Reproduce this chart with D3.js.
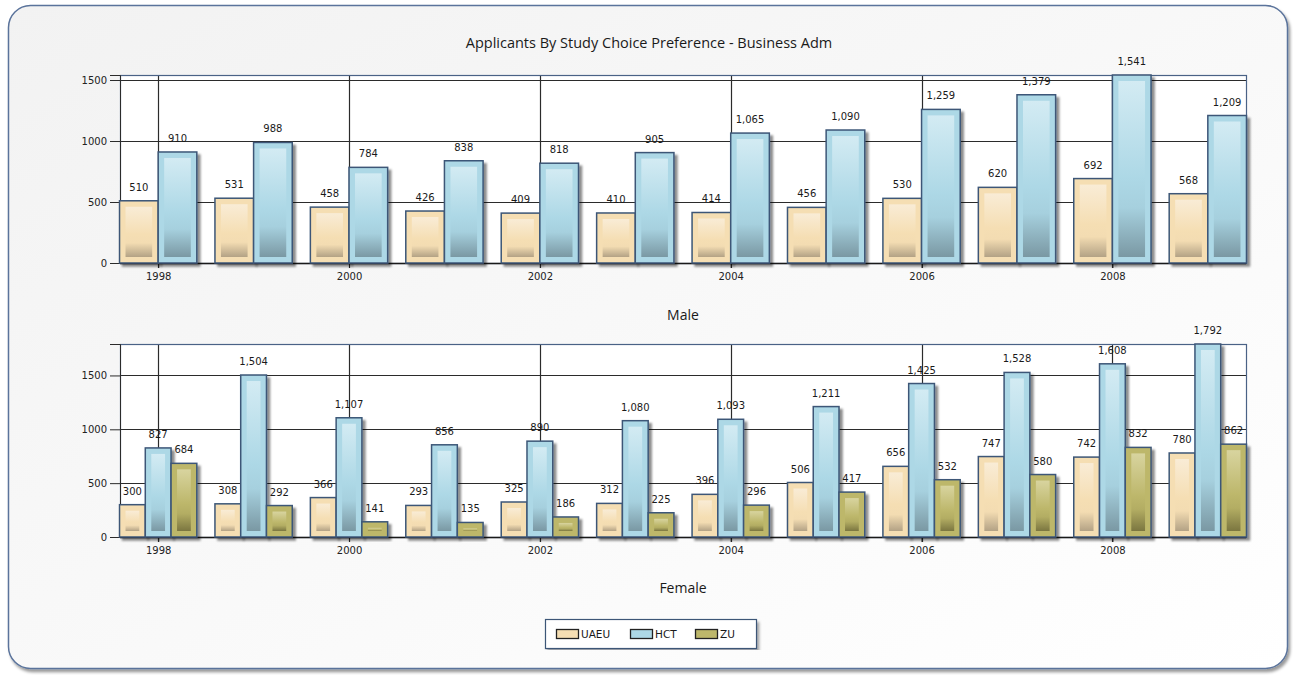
<!DOCTYPE html>
<html>
<head>
<meta charset="utf-8">
<script src="https://cdn.jsdelivr.net/npm/d3@7"></script>
<style>
  html, body { margin: 0; padding: 0; background: #ffffff; }
  svg { display: block; }
</style>
</head>
<body>
<svg id="chart" width="1293" height="675"></svg>
<script>
// ---------------- DATA ----------------
const years = ["1998","1999","2000","2001","2002","2003","2004","2005","2006","2007","2008","2009"];
const xTickYears = ["1998","2000","2002","2004","2006","2008"];
const yTicks = [0, 500, 1000, 1500];
const seriesNames = ["UAEU", "HCT", "ZU"];

const maleUAEU = [510, 531, 458, 426, 409, 410, 414, 456, 530, 620, 692, 568];
const maleHCT  = [910, 988, 784, 838, 818, 905, 1065, 1090, 1259, 1379, 1541, 1209];

const femaleUAEU = [300, 308, 366, 293, 325, 312, 396, 506, 656, 747, 742, 780];
const femaleHCT  = [827, 1504, 1107, 856, 890, 1080, 1093, 1211, 1425, 1528, 1608, 1792];
const femaleZU   = [684, 292, 141, 135, 186, 225, 296, 417, 532, 580, 832, 862];

const chartTitle = "Applicants By Study Choice Preference - Business Adm";

// ---------------- STYLE ----------------
const baseColors = {UAEU: "#f5deb3", HCT: "#add8e6", ZU: "#bdb76b"};
const gradStops = {
  UAEU: ["#f9ecd6", "#f5deb3", "#f3dcb2", "#b3a285"],
  HCT:  ["#d3ebf3", "#add8e6", "#a6d0de", "#7a98a3"],
  ZU:   ["#d8d49f", "#bdb76b", "#b3ad63", "#7b7640"]
};
const outline = "#3c5677";
const fontTick = "'DejaVu Sans', Verdana, sans-serif";
const fontTitle = "'Open Sans', 'Liberation Sans', Arial, sans-serif";

const svg = d3.select("#chart");
const defs = svg.append("defs");

const bg = defs.append("linearGradient").attr("id", "bgGrad")
  .attr("x1", "0").attr("y1", "0").attr("x2", "1").attr("y2", "1");
bg.append("stop").attr("offset", "0").attr("stop-color", "#f2f2f2");
bg.append("stop").attr("offset", "1").attr("stop-color", "#ffffff");

const fShadow = defs.append("filter").attr("id", "frameShadow")
  .attr("x", "-5%").attr("y", "-5%").attr("width", "110%").attr("height", "110%");
fShadow.append("feDropShadow").attr("dx", 2).attr("dy", 3).attr("stdDeviation", 1.5)
  .attr("flood-color", "#000").attr("flood-opacity", 0.4);

const bShadow = defs.append("filter").attr("id", "barShadow")
  .attr("x", "-30%").attr("y", "-30%").attr("width", "160%").attr("height", "160%");
bShadow.append("feDropShadow").attr("dx", 3).attr("dy", 3).attr("stdDeviation", 1.2)
  .attr("flood-color", "#000").attr("flood-opacity", 0.45);

seriesNames.forEach(name => {
  const g = defs.append("linearGradient").attr("id", "grad" + name)
    .attr("x1", "0").attr("y1", "0").attr("x2", "0").attr("y2", "1");
  const s = gradStops[name];
  [[0, s[0]], [0.55, s[1]], [0.72, s[2]], [1, s[3]]].forEach(([o, c]) => {
    g.append("stop").attr("offset", o).attr("stop-color", c);
  });
});

// frame
svg.append("rect")
  .attr("x", 8.5).attr("y", 5.5).attr("width", 1279).attr("height", 663)
  .attr("rx", 22).attr("ry", 22)
  .attr("fill", "url(#bgGrad)").attr("stroke", "#5a739b").attr("stroke-width", 1.5)
  .attr("filter", "url(#frameShadow)");

// title
svg.append("text")
  .attr("x", 649).attr("y", 48)
  .attr("text-anchor", "middle")
  .attr("font-family", fontTitle).attr("font-size", "14.5px").attr("fill", "#1a1a1a")
  .text(chartTitle);

// ---------------- PANELS ----------------
const plotLeft = 120, plotRight = 1246;

const panels = [
  {label: "Male",   names: ["UAEU", "HCT"],       data: [maleUAEU, maleHCT],               top: 75,  bottom: 263, labelY: 320},
  {label: "Female", names: ["UAEU", "HCT", "ZU"], data: [femaleUAEU, femaleHCT, femaleZU], top: 344, bottom: 537, labelY: 593}
];

const x = d3.scalePoint().domain(years).range([plotLeft, plotRight]).padding(0.4);
const groupWidth = x.step() * 0.81;
const fmt = d3.format(",");

panels.forEach(p => {
  const maxV = d3.max(p.data.flat());
  const y = d3.scaleLinear().domain([0, maxV]).range([p.bottom, p.top]);
  const g = svg.append("g");

  g.append("rect").attr("x", plotLeft).attr("y", p.top)
    .attr("width", plotRight - plotLeft).attr("height", p.bottom - p.top)
    .attr("fill", "#ffffff");

  g.selectAll(".hg").data(yTicks.filter(t => t > 0)).enter().append("line")
    .attr("x1", plotLeft).attr("x2", plotRight)
    .attr("y1", d => Math.round(y(d)) + 0.5).attr("y2", d => Math.round(y(d)) + 0.5)
    .attr("stroke", "#2b2b2b").attr("stroke-width", 1.2);

  g.selectAll(".vg").data(xTickYears).enter().append("line")
    .attr("x1", d => Math.round(x(d)) + 0.5).attr("x2", d => Math.round(x(d)) + 0.5)
    .attr("y1", p.top).attr("y2", p.bottom + 5)
    .attr("stroke", "#2b2b2b").attr("stroke-width", 1.2);

  g.append("rect").attr("x", plotLeft + 0.5).attr("y", p.top + 0.5)
    .attr("width", plotRight - plotLeft).attr("height", p.bottom - p.top)
    .attr("fill", "none").attr("stroke", "#4a6286").attr("stroke-width", 1.2);

  const yAxis = d3.axisLeft(y).tickValues(yTicks).tickSize(10).tickPadding(3).tickFormat(d3.format("d"));
  const ya = g.append("g").attr("transform", `translate(${plotLeft},0)`).call(yAxis);
  ya.select(".domain").attr("stroke", "#2b2b2b");
  ya.selectAll(".tick line").attr("stroke", "#2b2b2b");
  ya.selectAll("text").attr("font-family", fontTick).attr("font-size", "10px").attr("fill", "#222");

  const xAxis = d3.axisBottom(x).tickValues(xTickYears).tickSize(5).tickPadding(5);
  const xa = g.append("g").attr("transform", `translate(0,${p.bottom})`).call(xAxis);
  xa.select(".domain").attr("stroke", "#1a1a1a").attr("stroke-width", 1.5)
    .attr("d", `M${plotLeft},0.5H${plotRight}`);
  xa.selectAll(".tick line").attr("stroke", "#2b2b2b");
  xa.selectAll("text").attr("font-family", fontTick).attr("font-size", "10px").attr("fill", "#222");

  const bx = d3.scaleBand().domain(p.names).range([-groupWidth / 2, groupWidth / 2]).padding(0);
  const bw = bx.bandwidth();

  const barData = [];
  p.names.forEach((name, si) => {
    years.forEach((yr, i) => barData.push({name, yr, v: p.data[si][i]}));
  });

  const bars = g.selectAll(".bar").data(barData).enter().append("g");
  bars.append("rect")
    .attr("x", d => x(d.yr) + bx(d.name))
    .attr("y", d => y(d.v))
    .attr("width", bw)
    .attr("height", d => p.bottom - y(d.v))
    .attr("fill", d => baseColors[d.name])
    .attr("stroke", outline).attr("stroke-width", 1.5)
    .attr("filter", "url(#barShadow)");
  bars.append("rect")
    .attr("x", d => x(d.yr) + bx(d.name) + 6)
    .attr("y", d => y(d.v) + 6)
    .attr("width", bw - 12)
    .attr("height", d => Math.max(0, p.bottom - y(d.v) - 12))
    .attr("fill", d => `url(#grad${d.name})`);

  g.selectAll(".vl").data(barData).enter().append("text")
    .attr("x", d => x(d.yr) + bx(d.name) + bw / 2)
    .attr("y", d => y(d.v) - 10)
    .attr("text-anchor", "middle")
    .attr("font-family", fontTick).attr("font-size", "10px").attr("fill", "#1a1a1a")
    .text(d => fmt(d.v));

  svg.append("text")
    .attr("x", (plotLeft + plotRight) / 2).attr("y", p.labelY)
    .attr("text-anchor", "middle")
    .attr("font-family", fontTitle).attr("font-size", "14px").attr("fill", "#1a1a1a")
    .text(p.label);
});

// ---------------- LEGEND ----------------
const leg = svg.append("g");
leg.append("rect").attr("x", 545.5).attr("y", 619.5).attr("width", 211).attr("height", 29)
  .attr("fill", "#ffffff").attr("stroke", "#3c5677").attr("stroke-width", 1.2)
  .attr("filter", "url(#frameShadow)");
const legX = d3.scaleOrdinal().domain(seriesNames).range([556, 630, 695]);
const items = leg.selectAll(".li").data(seriesNames).enter().append("g");
items.append("rect")
  .attr("x", d => legX(d) + 0.5).attr("y", 629.5).attr("width", 22).attr("height", 9)
  .attr("fill", d => baseColors[d]).attr("stroke", "#222").attr("stroke-width", 1.3);
items.append("text")
  .attr("x", d => legX(d) + 25).attr("y", 638)
  .attr("font-family", fontTick).attr("font-size", "10.5px").attr("fill", "#1a1a1a")
  .text(d => d);
</script>
</body>
</html>
